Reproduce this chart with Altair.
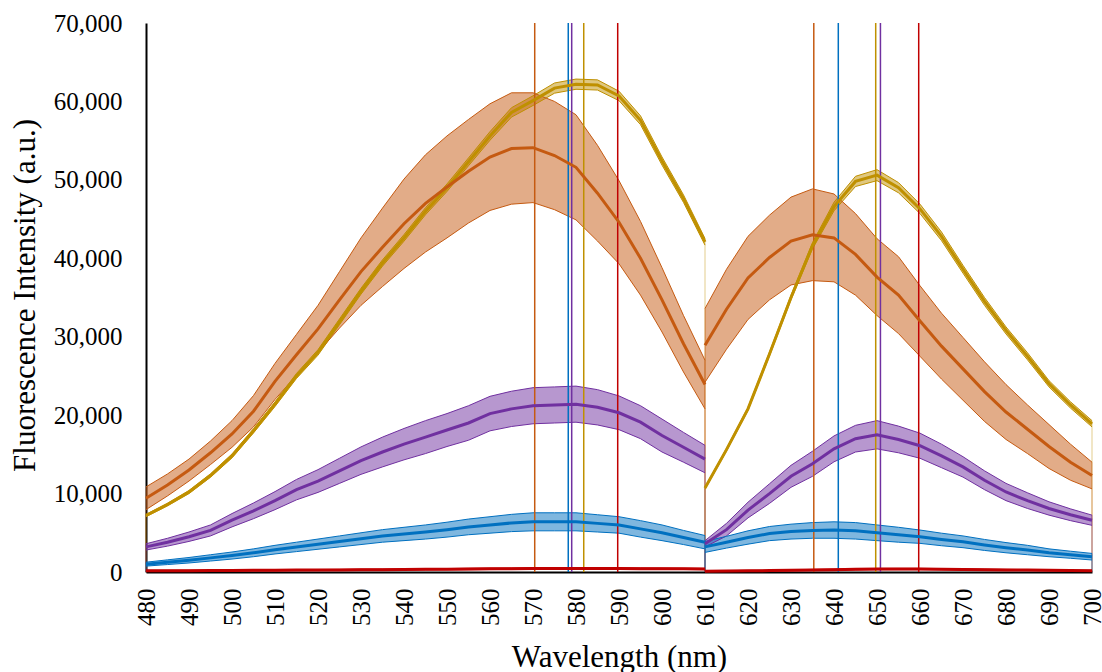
import altair as alt
import pandas as pd

# Wavelength grids of the two acquisition windows (nm)
wl_a = list(range(480, 615, 5))   # 480 … 610
wl_b = list(range(610, 705, 5))   # 610 … 700

series_names = ["gold", "orange", "purple", "blue", "red"]
series_colors = ["#BF9000", "#C55A11", "#7030A0", "#0070C0", "#C00000"]

# Mean fluorescence intensity (a.u.), window A
gold_a = [7200, 8600, 10200, 12300, 14800, 18000, 21400, 25000, 28000, 31900, 35800, 39400, 42600, 46000,
          49000, 52300, 55600, 58600, 60100, 61700, 62200, 62100, 60700, 57600, 52400, 47600, 42100]
orange_a = [9400, 11100, 13000, 15200, 17600, 20500, 24300, 27700, 31000, 34700, 38300, 41400, 44400, 47000,
            49100, 51100, 52900, 54000, 54100, 53100, 51600, 48300, 44600, 40000, 34700, 29100, 23900]
purple_a = [3200, 3800, 4500, 5300, 6600, 7800, 9100, 10500, 11600, 12900, 14200, 15300, 16300, 17200,
            18100, 19000, 20200, 20800, 21200, 21300, 21400, 21000, 20300, 19100, 17400, 15900, 14400]
blue_a = [1000, 1250, 1500, 1800, 2100, 2450, 2850, 3200, 3550, 3900, 4250, 4600, 4850, 5100,
          5400, 5750, 6000, 6250, 6400, 6400, 6400, 6200, 6000, 5500, 5000, 4400, 3800]
red_a = [150, 160, 170, 180, 200, 210, 220, 240, 250, 270, 290, 300, 320, 340,
         360, 380, 400, 420, 440, 450, 450, 450, 440, 430, 420, 400, 380]

# Standard deviation, window A
gold_sd_a = [150, 170, 200, 220, 250, 270, 300, 320, 350, 370, 380, 400, 420, 450,
             480, 500, 550, 600, 620, 650, 650, 650, 600, 560, 520, 480, 420]
orange_sd_a = [1450, 1400, 1400, 1500, 1700, 2000, 2300, 2600, 3000, 3600, 4300, 5000, 5700, 6200,
               6500, 6600, 6800, 7100, 7000, 6900, 6700, 6100, 5300, 4700, 4100, 3600, 3100]
purple_sd_a = [400, 500, 600, 700, 850, 1000, 1150, 1300, 1450, 1600, 1750, 1900, 2000, 2100,
               2100, 2200, 2200, 2250, 2300, 2300, 2300, 2250, 2150, 2100, 2100, 1900, 1750]
blue_sd_a = [250, 300, 350, 400, 450, 500, 550, 600, 650, 700, 750, 800, 850, 900,
             950, 1000, 1050, 1100, 1150, 1150, 1150, 1100, 1050, 1050, 1000, 900, 850]
red_sd_a = [60, 60, 60, 60, 60, 70, 70, 70, 70, 70, 80, 80, 80, 80,
            80, 90, 90, 90, 90, 90, 90, 90, 90, 90, 90, 80, 80]

# Mean fluorescence intensity (a.u.), window B
gold_b = [10700, 15600, 20800, 27800, 35000, 41600, 46600, 49800, 50600, 49000, 46300, 42800, 38600, 34500,
          30800, 27500, 24000, 21300, 18900]
orange_b = [28900, 33500, 37500, 40100, 42200, 43000, 42600, 40500, 37600, 35300, 32000, 28800, 25900, 23000,
            20400, 18200, 16000, 14000, 12300]
purple_b = [3600, 5400, 7900, 10000, 12200, 13800, 15700, 17000, 17500, 16900, 16100, 14800, 13400, 11700,
            10200, 9100, 8100, 7300, 6600]
blue_b = [3200, 3800, 4400, 4900, 5150, 5300, 5350, 5250, 5000, 4750, 4500, 4150, 3850, 3450,
          3100, 2800, 2450, 2200, 1950]
red_b = [100, 120, 150, 180, 220, 260, 300, 340, 370, 380, 380, 360, 330, 300,
         270, 240, 210, 180, 160]

# Standard deviation, window B
gold_sd_b = [150, 180, 200, 250, 300, 400, 550, 650, 700, 650, 600, 550, 500, 500, 450, 450, 400, 400, 400]
orange_sd_b = [4700, 5100, 5300, 5400, 5600, 5850, 5600, 5200, 4900, 4900, 4500, 4200, 4000, 3800,
               3500, 3100, 2800, 2300, 1700]
purple_sd_b = [400, 800, 1000, 1250, 1400, 1600, 1650, 1700, 1800, 1700, 1600, 1500, 1300, 1200,
               1100, 1000, 850, 750, 650]
blue_sd_b = [700, 750, 850, 900, 950, 1000, 1050, 1050, 1000, 950, 850, 800, 750, 700, 650, 600, 500, 450, 420]
red_sd_b = [50, 50, 60, 60, 70, 70, 80, 80, 80, 80, 80, 80, 70, 70, 70, 60, 60, 60, 60]

# Emission maxima marked by vertical lines (nm)
peak_wl = [570.4, 578.2, 579.0, 581.8, 589.7, 635.3, 641.0, 649.7, 650.8, 659.7]
peak_series = ["orange", "blue", "purple", "gold", "red", "orange", "blue", "gold", "purple", "red"]

window_a = {"gold": (gold_a, gold_sd_a), "orange": (orange_a, orange_sd_a), "purple": (purple_a, purple_sd_a),
            "blue": (blue_a, blue_sd_a), "red": (red_a, red_sd_a)}
window_b = {"gold": (gold_b, gold_sd_b), "orange": (orange_b, orange_sd_b), "purple": (purple_b, purple_sd_b),
            "blue": (blue_b, blue_sd_b), "red": (red_b, red_sd_b)}

rows = []
for seg, grid, table in [("A", wl_a, window_a), ("B", wl_b, window_b)]:
    for name in series_names:
        means, sds = table[name]
        for w, m, s in zip(grid, means, sds):
            rows.append({"series": name, "seg": seg, "wl": w, "mean": m, "lo": m - s, "hi": m + s})
df = pd.DataFrame(rows)

# Closing edges of the shaded bands at the window boundaries
edge_rows = []
for w, seg in [(480, "A"), (610, "A"), (610, "B"), (700, "B")]:
    sub = df[(df.wl == w) & (df.seg == seg)].sort_values("hi", ascending=False)
    for i, r in enumerate(sub.itertuples()):
        edge_rows.append({"wl": w, "top": r.hi, "series": r.series, "k": f"{w}{seg}{i}", "rank": i})
edges = pd.DataFrame(edge_rows)

peaks = pd.DataFrame({"wl": peak_wl, "series": peak_series})

FONT = "Liberation Serif"
x_scale = alt.Scale(domain=[480, 700], nice=False, zero=False)
y_scale = alt.Scale(domain=[0, 70000], nice=False)
color = alt.Color("series:N", scale=alt.Scale(domain=series_names, range=series_colors), legend=None)

x_axis = alt.Axis(values=list(range(480, 701, 10)), labelAngle=-90, labelPadding=16, labelFlush=False,
                  labelOverlap=False, titleY=94, titleBaseline="alphabetic")
y_axis = alt.Axis(values=list(range(0, 70001, 10000)), format=",d", labelPadding=24,
                  titleX=-112, titleY=272, titleBaseline="alphabetic")

X = alt.X("wl:Q", scale=x_scale, axis=x_axis, title="Wavelength (nm)")
Y_TITLE = "Fluorescence Intensity (a.u.)"

base = alt.Chart(df)

band = base.mark_area(opacity=0.5).encode(
    x=X, y=alt.Y("lo:Q", scale=y_scale, axis=y_axis, title=Y_TITLE), y2="hi:Q",
    color=color, detail="seg:N")

band_lo = base.mark_line(strokeWidth=1).encode(
    x=X, y=alt.Y("lo:Q", scale=y_scale, axis=y_axis, title=Y_TITLE), color=color, detail="seg:N")
band_hi = base.mark_line(strokeWidth=1).encode(
    x=X, y=alt.Y("hi:Q", scale=y_scale, axis=y_axis, title=Y_TITLE), color=color, detail="seg:N")

edge_lines = alt.Chart(edges).mark_rule(strokeWidth=1, opacity=0.45).encode(
    x=X, y=alt.Y("top:Q", scale=y_scale, axis=y_axis, title=Y_TITLE), y2=alt.datum(0),
    color=color, order="rank:Q")

peak_lines = alt.Chart(peaks).mark_rule(strokeWidth=1.5).encode(x=X, color=color)

mean_lines = base.mark_line(strokeWidth=3).encode(
    x=X, y=alt.Y("mean:Q", scale=y_scale, axis=y_axis, title=Y_TITLE), color=color, detail="seg:N")

chart = alt.layer(edge_lines, band, band_lo, band_hi, peak_lines, mean_lines).properties(
    width=946, height=549,
    padding={"left": 146, "top": 23, "right": 10, "bottom": 100},
    autosize=alt.AutoSizeParams(type="none"),
    background="white",
).configure_axis(
    domainColor="black", domainWidth=2, ticks=False, tickSize=0, grid=False,
    labelFont=FONT, labelFontSize=25, labelColor="black",
    titleFont=FONT, titleFontSize=31, titleFontWeight="normal", titleColor="black",
).configure_view(stroke=None)

chart.save("out.html", embed_options={"renderer": "svg", "actions": False})
